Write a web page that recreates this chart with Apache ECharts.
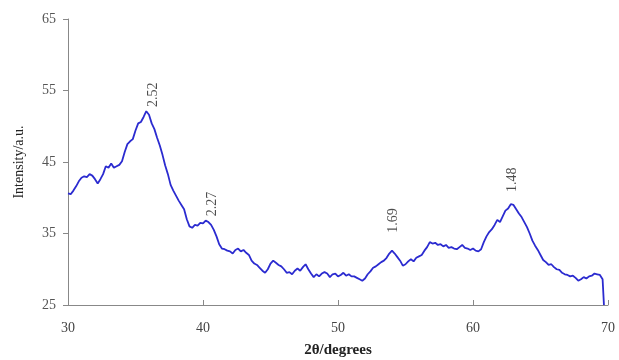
<!DOCTYPE html>
<html lang="en" style="height: 100%">
<head>
  <meta charset="utf-8">
  <script src="https://cdn.jsdelivr.net/npm/echarts/dist/echarts.min.js"></script>
</head>
<body style="height: 100%; margin: 0; background: #fff">
  <div id="container" style="width: 619px; height: 360px"></div>

  <script type="text/javascript">
// 2theta positions (degrees)
var twoTheta = [
  30.0, 30.2, 30.4, 30.6, 30.8, 31.0, 31.2, 31.4, 31.6, 31.8,
  32.0, 32.2, 32.4, 32.6, 32.8, 33.0, 33.2, 33.4, 33.6, 33.8,
  34.0, 34.2, 34.4, 34.6, 34.8, 35.0, 35.2, 35.4, 35.6, 35.8,
  36.0, 36.2, 36.4, 36.6, 36.8, 37.0, 37.2, 37.4, 37.6, 37.8,
  38.0, 38.2, 38.4, 38.6, 38.8, 39.0, 39.2, 39.4, 39.6, 39.8,
  40.0, 40.2, 40.4, 40.6, 40.8, 41.0, 41.2, 41.4, 41.6, 41.8,
  42.0, 42.2, 42.4, 42.6, 42.8, 43.0, 43.2, 43.4, 43.6, 43.8,
  44.0, 44.2, 44.4, 44.6, 44.8, 45.0, 45.2, 45.4, 45.6, 45.8,
  46.0, 46.2, 46.4, 46.6, 46.8, 47.0, 47.2, 47.4, 47.6, 47.8,
  48.0, 48.2, 48.4, 48.6, 48.8, 49.0, 49.2, 49.4, 49.6, 49.8,
  50.0, 50.2, 50.4, 50.6, 50.8, 51.0, 51.2, 51.4, 51.6, 51.8,
  52.0, 52.2, 52.4, 52.6, 52.8, 53.0, 53.2, 53.4, 53.6, 53.8,
  54.0, 54.2, 54.4, 54.6, 54.8, 55.0, 55.2, 55.4, 55.6, 55.8,
  56.0, 56.2, 56.4, 56.6, 56.8, 57.0, 57.2, 57.4, 57.6, 57.8,
  58.0, 58.2, 58.4, 58.6, 58.8, 59.0, 59.2, 59.4, 59.6, 59.8,
  60.0, 60.2, 60.4, 60.6, 60.8, 61.0, 61.2, 61.4, 61.6, 61.8,
  62.0, 62.2, 62.4, 62.6, 62.8, 63.0, 63.2, 63.4, 63.6, 63.8,
  64.0, 64.2, 64.4, 64.6, 64.8, 65.0, 65.2, 65.4, 65.6, 65.8,
  66.0, 66.2, 66.4, 66.6, 66.8, 67.0, 67.2, 67.4, 67.6, 67.8,
  68.0, 68.2, 68.4, 68.6, 68.8, 69.0, 69.2, 69.4, 69.6, 69.7
];
// intensity (a.u.)
var intensity = [
  40.6, 40.5, 41.0, 41.6, 42.3, 42.8, 43.0, 42.9, 43.3, 43.1,
  42.6, 42.0, 42.6, 43.3, 44.4, 44.2, 44.8, 44.2, 44.4, 44.6,
  45.1, 46.4, 47.5, 47.9, 48.2, 49.4, 50.4, 50.6, 51.3, 52.1,
  51.6, 50.4, 49.6, 48.4, 47.3, 46.0, 44.5, 43.3, 41.8, 41.0,
  40.3, 39.6, 39.0, 38.4, 37.0, 36.0, 35.8, 36.2, 36.1, 36.5,
  36.4, 36.8, 36.6, 36.2, 35.5, 34.6, 33.5, 32.9, 32.8, 32.6,
  32.5, 32.2, 32.7, 32.9, 32.5, 32.7, 32.3, 32.0, 31.2, 30.8,
  30.6, 30.2, 29.8, 29.5, 30.0, 30.8, 31.2, 30.9, 30.6, 30.4,
  30.0, 29.5, 29.6, 29.3, 29.8, 30.1, 29.8, 30.3, 30.7, 30.0,
  29.4, 28.9, 29.3, 29.0, 29.4, 29.6, 29.4, 28.9, 29.3, 29.4,
  29.0, 29.2, 29.5, 29.1, 29.3, 29.0, 29.0, 28.8, 28.6, 28.4,
  28.7, 29.3, 29.7, 30.2, 30.4, 30.7, 31.0, 31.2, 31.6, 32.2,
  32.6, 32.2, 31.7, 31.2, 30.5, 30.7, 31.1, 31.4, 31.1, 31.6,
  31.8, 32.0, 32.6, 33.1, 33.8, 33.6, 33.7, 33.4, 33.5, 33.2,
  33.4, 33.0, 33.1, 32.9, 32.8, 33.1, 33.4, 33.0, 32.9, 32.7,
  32.9, 32.6, 32.5, 32.8, 33.8, 34.6, 35.2, 35.6, 36.2, 36.9,
  36.6, 37.4, 38.2, 38.5, 39.1, 39.0, 38.4, 37.8, 37.3, 36.6,
  35.9, 35.0, 34.0, 33.3, 32.7, 32.0, 31.3, 31.0, 30.6, 30.7,
  30.3, 30.0, 29.9, 29.5, 29.3, 29.2, 29.0, 29.1, 28.8, 28.4,
  28.6, 28.9, 28.7, 29.0, 29.1, 29.4, 29.3, 29.2, 28.6, 25.0
];
// d-spacing annotations: [2theta, intensity at label foot, text]
var peakLabels = [
  [36.3, 52.7, '2.52'],
  [40.7, 37.4, '2.27'],
  [54.1, 35.1, '1.69'],
  [62.9, 40.8, '1.48']
];

var dom = document.getElementById('container');
var myChart = echarts.init(dom, null, { renderer: 'canvas' });

var lineData = twoTheta.map(function (x, i) { return [x, intensity[i]]; });
var font = '"Liberation Serif", "Times New Roman", serif';

var option = {
  backgroundColor: '#fff',
  animation: false,
  grid: { left: 68, right: 11, top: 19, bottom: 55, outerBoundsMode: 'none' },
  xAxis: {
    type: 'value',
    min: 30,
    max: 70,
    interval: 10,
    name: '2θ/degrees',
    nameLocation: 'middle',
    nameGap: 38,
    nameTextStyle: { fontFamily: font, fontSize: 15, fontWeight: 'bold', color: '#222' },
    axisLine: { lineStyle: { color: '#888', width: 1 } },
    axisTick: { inside: true, length: 5, lineStyle: { color: '#888' } },
    axisLabel: { fontFamily: font, fontSize: 14, color: '#444', margin: 16 },
    splitLine: { show: false }
  },
  yAxis: {
    type: 'value',
    min: 25,
    max: 65,
    interval: 10,
    name: 'Intensity/a.u.',
    nameLocation: 'middle',
    nameGap: 42,
    nameTextStyle: { fontFamily: font, fontSize: 14, color: '#222' },
    axisLine: { show: true, lineStyle: { color: '#888', width: 1 } },
    axisTick: { show: true, length: 5, lineStyle: { color: '#888' } },
    axisLabel: { fontFamily: font, fontSize: 14, color: '#555', margin: 12 },
    splitLine: { show: false }
  },
  series: [
    {
      type: 'line',
      data: lineData,
      showSymbol: false,
      lineStyle: { color: '#2b2bd0', width: 1.8 }
    },
    {
      type: 'scatter',
      data: peakLabels,
      symbolSize: 0,
      label: {
        show: true,
        position: 'inside',
        rotate: 90,
        align: 'left',
        verticalAlign: 'middle',
        formatter: function (p) { return p.value[2]; },
        fontFamily: font,
        fontSize: 14,
        color: '#222'
      }
    }
  ]
};

myChart.setOption(option);
  </script>
</body>
</html>
